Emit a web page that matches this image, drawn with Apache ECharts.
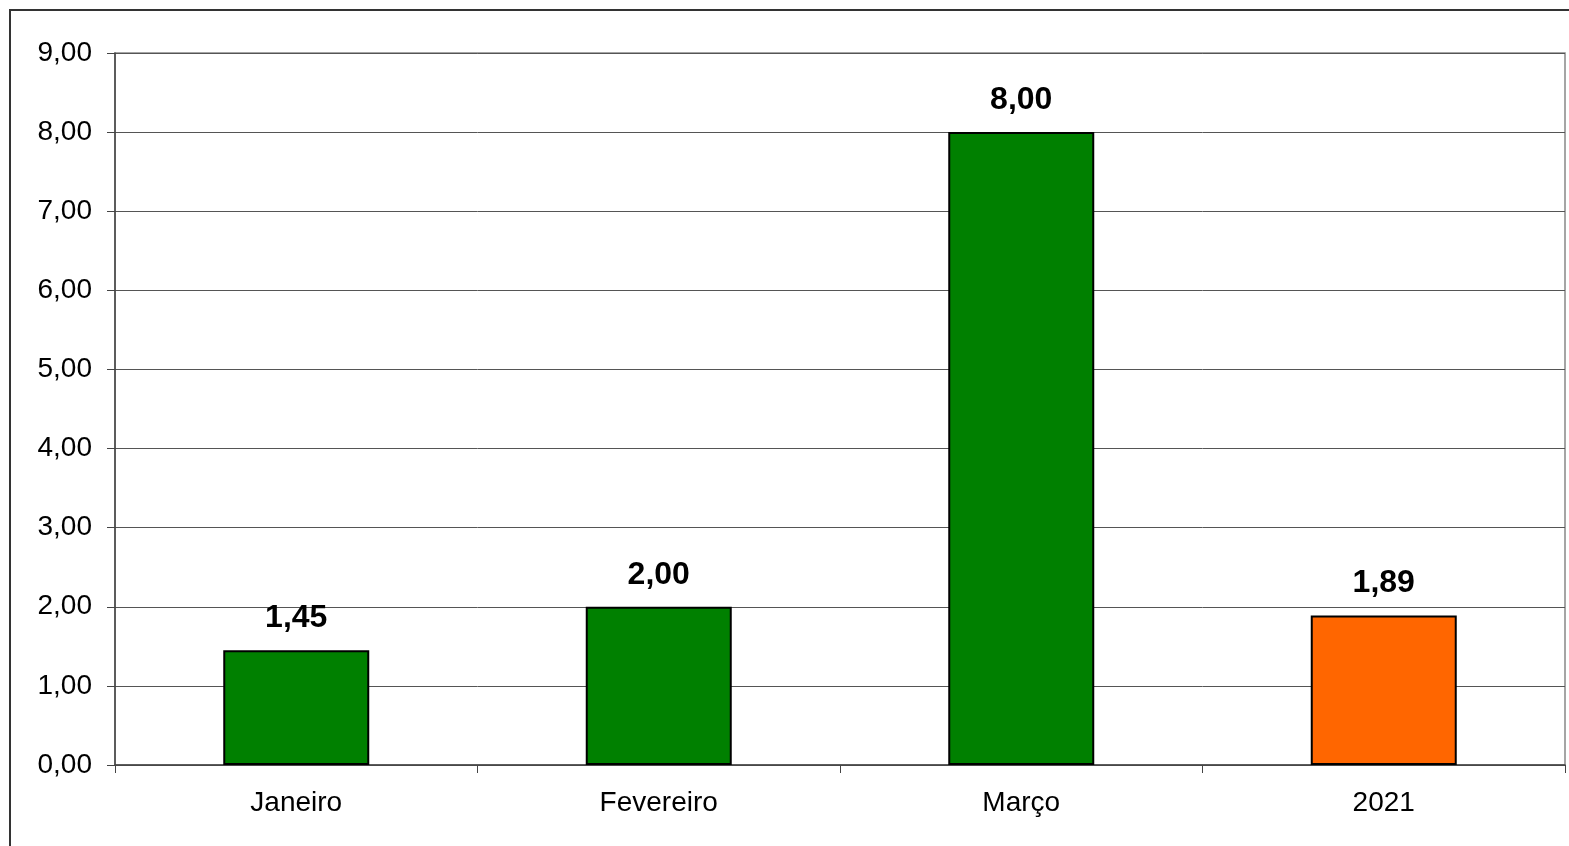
<!DOCTYPE html>
<html>
<head>
<meta charset="utf-8">
<script src="https://cdn.jsdelivr.net/npm/echarts@6/dist/echarts.min.js"></script>
<style>
html,body{margin:0;padding:0;background:#fff;}
#c{width:1569px;height:846px;}
</style>
</head>
<body>
<div id="c"></div>
<script>
const categories = ['Janeiro', 'Fevereiro', 'Março', '2021'];
const values = [1.45, 2.00, 8.00, 1.89];
const barColors = ['#008000', '#008000', '#008000', '#FF6600'];
const yTicks = [0, 1, 2, 3, 4, 5, 6, 7, 8, 9];

const fmt = v => Number(v).toFixed(2).replace('.', ',');
const chart = echarts.init(document.getElementById('c'));
chart.setOption({
  animation: false,
  backgroundColor: '#fff',
  graphic: [{
    type: 'rect', z: -1,
    shape: {x: 10, y: 10, width: 1600, height: 900},
    style: {fill: 'none', stroke: '#333', lineWidth: 2}
  }],
  grid: {left: 115, right: 4, top: 53, bottom: 81, show: true, borderColor: '#888', borderWidth: 1.5},
  xAxis: {
    type: 'category', data: categories,
    axisLine: {lineStyle: {color: '#444', width: 1.5}},
    axisTick: {show: true, length: 8, lineStyle: {color: '#444'}},
    axisLabel: {color: '#000', fontSize: 28, fontFamily: 'Liberation Sans, Arial', margin: 24}
  },
  yAxis: {
    type: 'value', min: yTicks[0], max: yTicks[yTicks.length - 1], interval: 1,
    axisLine: {show: true, lineStyle: {color: '#444', width: 1.5}},
    axisTick: {show: true, length: 8, lineStyle: {color: '#444'}},
    axisLabel: {color: '#000', fontSize: 28, fontFamily: 'Liberation Sans, Arial', margin: 23, formatter: fmt},
    splitLine: {lineStyle: {color: '#555', width: 1}}
  },
  series: [{
    type: 'bar',
    barWidth: 146,
    data: values.map((v, i) => ({value: v, itemStyle: {color: barColors[i]}})),
    itemStyle: {borderColor: '#000', borderWidth: 2},
    label: {
      show: true, position: 'top', distance: 16,
      color: '#000', fontSize: 32, fontWeight: 'bold', fontFamily: 'Liberation Sans, Arial',
      formatter: p => fmt(p.value)
    }
  }]
});
</script>
</body>
</html>
